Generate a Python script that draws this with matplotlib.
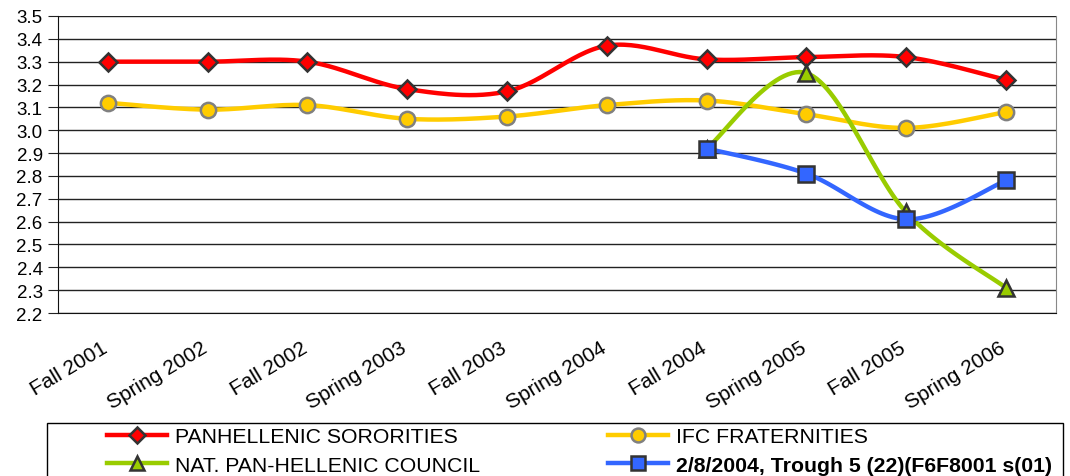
import matplotlib
matplotlib.use("Agg")
import matplotlib.pyplot as plt
from matplotlib.patches import Rectangle
from matplotlib.transforms import ScaledTranslation
import numpy as np

terms = ["Fall 2001", "Spring 2002", "Fall 2002", "Spring 2003", "Fall 2003",
         "Spring 2004", "Fall 2004", "Spring 2005", "Fall 2005", "Spring 2006"]
panhellenic = [3.30, 3.30, 3.30, 3.18, 3.17, 3.37, 3.31, 3.32, 3.32, 3.22]
ifc = [3.12, 3.09, 3.11, 3.05, 3.06, 3.11, 3.13, 3.07, 3.01, 3.08]
nphc = [None, None, None, None, None, None, 2.92, 3.25, 2.64, 2.31]
other = [None, None, None, None, None, None, 2.92, 2.81, 2.61, 2.78]
yticks = [2.2, 2.3, 2.4, 2.5, 2.6, 2.7, 2.8, 2.9, 3.0, 3.1, 3.2, 3.3, 3.4, 3.5]
blue_label = "2/8/2004, Trough 5 (22)(F6F8001 s(01)"

plt.rcParams["font.family"] = ["Liberation Sans", "DejaVu Sans"]


def smooth(xs, ys, n=30):
    # catmull-rom through the points, done in roughly screen-scaled units
    sx, sy = 100.0, 228.0
    p = np.column_stack([np.array(xs) * sx, np.array(ys) * sy])
    p = np.vstack([p[0], p, p[-1]])
    out = []
    for i in range(1, len(p) - 2):
        p0, p1, p2, p3 = p[i - 1], p[i], p[i + 1], p[i + 2]
        c1 = p1 + (p2 - p0) / 6
        c2 = p2 - (p3 - p1) / 6
        t = np.linspace(0, 1, n)[:, None]
        seg = (1 - t) ** 3 * p1 + 3 * (1 - t) ** 2 * t * c1 + 3 * (1 - t) * t ** 2 * c2 + t ** 3 * p2
        out.append(seg)
    out = np.vstack(out)
    return out[:, 0] / sx, out[:, 1] / sy


fig = plt.figure(figsize=(10.7, 4.77), dpi=100)
ax = fig.add_axes([0.0542, 0.3417, 0.9327, 0.6227])

series = [
    ("PANHELLENIC SORORITIES", panhellenic, "#ff0000", "D", "#ff0000", "#333333", 9),
    ("IFC FRATERNITIES", ifc, "#ffcc00", "o", "#ffcc00", "#808080", 11),
    ("NAT. PAN-HELLENIC COUNCIL", nphc, "#99cc00", "^", "#99cc00", "#333333", 11),
    (blue_label, other, "#3366ff", "s", "#3366ff", "#333333", 11),
]

handles = []
for k, (name, vals, col, mk, fc, ec, ms) in enumerate(series):
    xs = [i for i, v in enumerate(vals) if v is not None]
    ys = [v for v in vals if v is not None]
    sx, sy = smooth(xs, ys)
    ax.plot(sx, sy, color=col, lw=3.2, zorder=3 + k, solid_capstyle="round")
    ax.plot(xs, ys, ls="none", marker=mk, ms=ms, mfc=fc, mec=ec, mew=1.8, zorder=3 + k)
    h, = ax.plot([], [], color=col, lw=3.2, marker=mk, ms=ms - 1, mfc=fc, mec=ec, mew=1.8)
    handles.append((h, name))

ax.set_xlim(-0.5, 9.5)
ax.set_ylim(2.2, 3.5)
ax.set_yticks(yticks)
ax.set_yticklabels(["%.1f" % v for v in yticks], fontsize=13.5)
ax.yaxis.grid(True, color="#222222", lw=1)
ax.set_axisbelow(True)
ax.set_xticks(range(len(terms)))
ax.set_xticklabels(terms, rotation=31, ha="right", rotation_mode="anchor", fontsize=15)
ax.tick_params(axis="x", length=0, pad=18)
ax.tick_params(axis="y", length=7, direction="out", color="#222222", pad=4)
shift = ScaledTranslation(-0.07, 0, fig.dpi_scale_trans)
for lbl in ax.get_xticklabels():
    lbl.set_transform(lbl.get_transform() + shift)
ax.spines["top"].set_visible(False)
ax.spines["right"].set_color("#888888")
ax.spines["left"].set_color("#111111")
ax.spines["bottom"].set_color("#111111")

# legend box, runs off the bottom of the picture
fig.patches.append(Rectangle((47 / 1070, -0.05), 1016 / 1070, 0.05 + 53 / 477,
                             transform=fig.transFigure, fill=False,
                             edgecolor="black", lw=1.0, clip_on=False))

leg_kw = dict(loc="upper left", borderaxespad=0, frameon=False, fontsize=15.3,
              handlelength=2.8, handletextpad=0.4, borderpad=0, labelspacing=0.45)
col1 = [handles[0], handles[2]]
col2 = [handles[1], handles[3]]
leg1 = fig.legend([h for h, _ in col1], [n for _, n in col1],
                  bbox_to_anchor=(107 / 1070, 1 - 428 / 477), **leg_kw)
leg2 = fig.legend([h for h, _ in col2], [n for _, n in col2],
                  bbox_to_anchor=(608 / 1070, 1 - 428 / 477), **leg_kw)
# the original's last label is a dense overprint; a bold face keeps that weight
leg2.get_texts()[1].set_fontweight("bold")

fig.savefig("out.png", dpi=100)
